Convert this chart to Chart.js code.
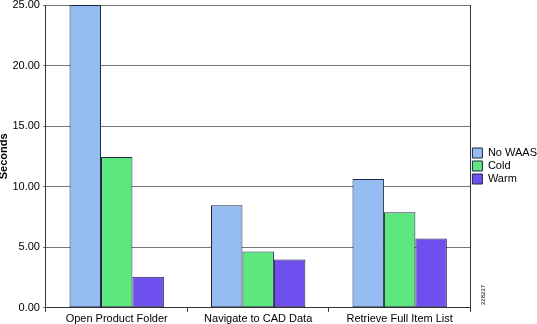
<!DOCTYPE html>
<html>
<head>
<meta charset="utf-8">
<script src="https://cdn.jsdelivr.net/npm/chart.js@4"></script>
<style>
  html, body { margin: 0; padding: 0; background: #fff; }
  #wrap { width: 537px; height: 324px; }
</style>
</head>
<body>
<div id="wrap"><canvas id="chart"></canvas></div>
<script>
let categories = ['Open Product Folder', 'Navigate to CAD Data', 'Retrieve Full Item List'];
let noWaas = [25.0, 8.47, 10.63];
let cold = [12.46, 4.65, 7.89];
let warm = [2.57, 3.99, 5.73];
let yTicks = [0, 5, 10, 15, 20, 25];

Chart.defaults.font.family = '"Liberation Sans", Arial, sans-serif';
Chart.defaults.font.size = 11;
Chart.defaults.color = '#000';

let frame = {
    id: 'frame',
    afterDraw(chart) {
        let ctx = chart.ctx, a = chart.chartArea;
        ctx.save();
        ctx.strokeStyle = '#333';
        ctx.lineWidth = 1;
        ctx.beginPath();
        ctx.moveTo(Math.round(a.right) + 0.5, a.top);
        ctx.lineTo(Math.round(a.right) + 0.5, a.bottom);
        ctx.stroke();
        // figure id
        ctx.translate(485, 305);
        ctx.rotate(-Math.PI / 2);
        ctx.font = '6px "Liberation Sans", Arial, sans-serif';
        ctx.fillStyle = '#000';
        ctx.fillText('228237', 0, 0);
        ctx.restore();
    }
};

let ds = (label, data, color) => ({
    label,
    data,
    backgroundColor: color,
    borderColor: '#1e2742',
    borderWidth: 1,
    borderSkipped: false,
    categoryPercentage: 0.667,
    barPercentage: 1.0
});

new Chart(document.getElementById('chart'), {
    type: 'bar',
    data: {
        labels: categories,
        datasets: [
            ds('No WAAS', noWaas, '#94bcf0'),
            ds('Cold', cold, '#5de87f'),
            ds('Warm', warm, '#6f50ee')
        ]
    },
    options: {
        responsive: true,
        maintainAspectRatio: false,
        animation: false,
        layout: { padding: { top: 5, right: -10, bottom: -3, left: -1 } },
        plugins: {
            tooltip: { enabled: false },
            legend: {
                position: 'right',
                labels: {
                    boxWidth: 10,
                    boxHeight: 10,
                    padding: 2,
                    font: { size: 11 }
                }
            }
        },
        scales: {
            x: {
                grid: { offset: true, drawOnChartArea: false, tickLength: 4, color: '#333' },
                border: { color: '#333' },
                ticks: { padding: 1 }
            },
            y: {
                min: 0,
                max: 25,
                afterBuildTicks: axis => { axis.ticks = yTicks.map(v => ({ value: v })); },
                ticks: { callback: v => v.toFixed(2), padding: 3, font: { size: 11, lineHeight: 0.2 } },
                grid: { color: '#777', tickLength: 3 },
                border: { color: '#333' },
                title: { display: true, text: 'Seconds', font: { weight: 'bold', size: 11, lineHeight: 0.95 }, padding: 0 }
            }
        }
    },
    plugins: [frame]
});
</script>
</body>
</html>
